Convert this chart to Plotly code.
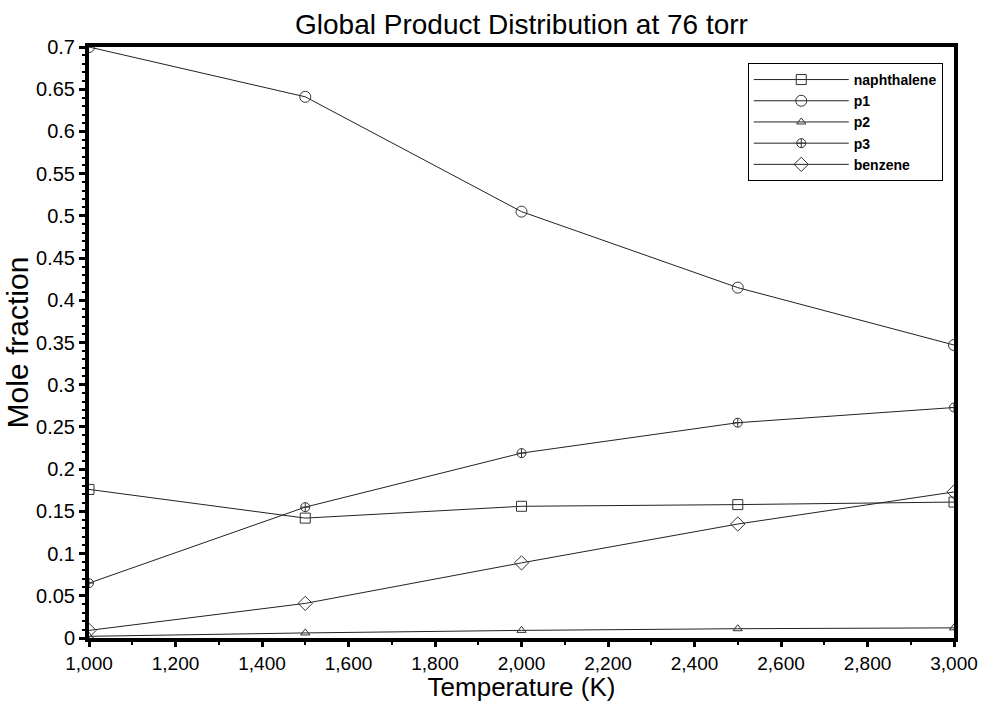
import plotly.graph_objects as go

temperature = [1000, 1500, 2000, 2500, 3000]
naphthalene = [0.176, 0.142, 0.156, 0.158, 0.161]
p1 = [0.700, 0.641, 0.505, 0.415, 0.347]
p2 = [0.002, 0.006, 0.009, 0.011, 0.012]
p3 = [0.065, 0.155, 0.219, 0.255, 0.273]
benzene = [0.009, 0.041, 0.089, 0.135, 0.173]

series = [
    ("naphthalene", naphthalene, "square-open", 10),
    ("p1", p1, "circle-open", 11),
    ("p2", p2, "triangle-up-open", 8),
    ("p3", p3, "circle-cross-open", 9),
    ("benzene", benzene, "diamond-open", 11),
]

fig = go.Figure()
for name, vals, sym, size in series:
    fig.add_trace(go.Scatter(
        x=temperature, y=vals, name=name, mode="lines+markers",
        line=dict(color="#222222", width=1),
        marker=dict(symbol=sym, size=size, color="#333333",
                    line=dict(width=1, color="#333333")),
    ))

font = "Liberation Sans, Arial, sans-serif"
fig.update_layout(
    width=983, height=702,
    margin=dict(l=89, r=29, t=47, b=64, autoexpand=False),
    paper_bgcolor="white", plot_bgcolor="white",
    font=dict(family=font, color="black"),
    title=dict(text="Global Product Distribution at 76 torr",
               x=0.5, xref="paper", y=0.966, yanchor="middle",
               font=dict(size=28, family=font, color="black")),
    showlegend=True,
    legend=dict(x=0.987, y=0.973, xanchor="right", yanchor="top",
                bgcolor="white", bordercolor="black", borderwidth=1,
                font=dict(size=14, family=font, weight="bold"),
                itemwidth=95, tracegroupgap=0),
    xaxis=dict(
        range=[1000, 3000], dtick=200, tick0=1000, tickformat=",",
        showgrid=False, zeroline=False, automargin=False,
        showline=True, linecolor="black", linewidth=4, mirror=True,
        ticks="outside", ticklen=5, tickwidth=3, tickcolor="black",
        minor=dict(dtick=100, ticks="outside", ticklen=3, tickwidth=2,
                   tickcolor="black"),
        tickfont=dict(size=19, family=font),
        title=dict(text="Temperature (K)", font=dict(size=26, family=font),
                   standoff=6),
    ),
    yaxis=dict(
        range=[0, 0.7], dtick=0.05, tick0=0,
        showgrid=False, zeroline=False, automargin=False,
        showline=True, linecolor="black", linewidth=4, mirror=True,
        ticks="outside", ticklen=6, tickwidth=3, tickcolor="black",
        minor=dict(dtick=0.01, ticks="outside", ticklen=3, tickwidth=2,
                   tickcolor="black"),
        tickfont=dict(size=20, family=font),
        title=dict(text="Mole fraction", font=dict(size=30, family=font),
                   standoff=0),
    ),
)

fig.write_html("out.html")
